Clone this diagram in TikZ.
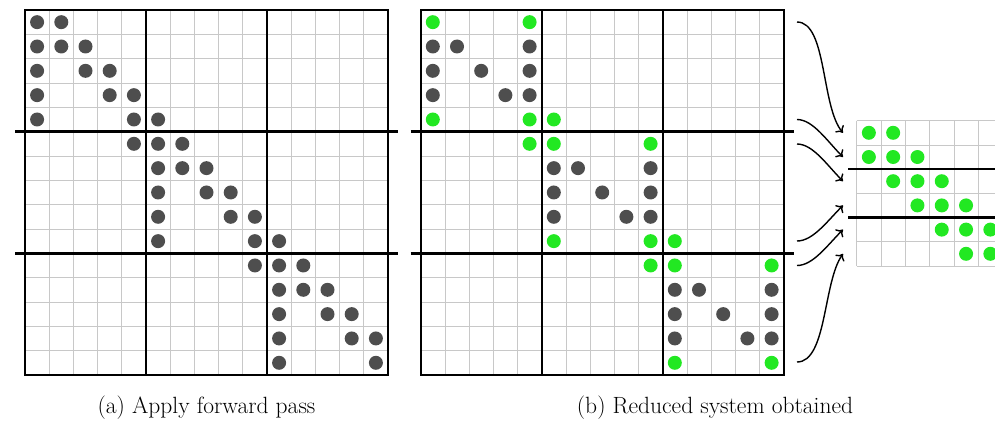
\documentclass[tikz,border=0pt]{standalone}
\usetikzlibrary{arrows.meta}
\definecolor{dotgrey}{RGB}{78,78,78}
\definecolor{dotgreen}{RGB}{34,232,34}
\definecolor{gridgrey}{RGB}{200,200,200}
\tikzset{
 gridline/.style={draw=gridgrey, line width=0.8pt},
 heavy/.style={draw=black, line width=2.6pt},
 blockline/.style={draw=black, line width=1.8pt},
 border/.style={draw=black, line width=1.8pt},
 greydot/.style={fill=dotgrey},
 greendot/.style={fill=dotgreen},
 flowarrow/.style={draw=black, line width=1.4pt, -{To[length=6pt,width=11pt]}},
 caption/.style={font=\fontsize{23.5}{28}\selectfont, anchor=base}
}
\begin{document}
\begin{tikzpicture}[x=1pt,y=-1pt]
\useasboundingbox (0,0) rectangle (995,421);
\def\cw{24.2}
\def\ch{24.33}
% ---------- grids of the two big matrices ----------
\foreach \ox in {25,420.7}{
  \foreach \i in {1,...,14}{
    \draw[gridline] ({\ox+\i*\cw},10) -- ({\ox+\i*\cw},{10+15*\ch});
    \draw[gridline] (\ox,{10+\i*\ch}) -- ({\ox+15*\cw},{10+\i*\ch});
  }
  \draw[blockline] ({\ox+5*\cw},10) -- ({\ox+5*\cw},{10+15*\ch});
  \draw[blockline] ({\ox+10*\cw},10) -- ({\ox+10*\cw},{10+15*\ch});
  \draw[border] (\ox,10) rectangle ({\ox+15*\cw},{10+15*\ch});
  \draw[heavy] ({\ox-10},{10+5*\ch}) -- ({\ox+15*\cw+10},{10+5*\ch});
  \draw[heavy] ({\ox-10},{10+10*\ch}) -- ({\ox+15*\cw+10},{10+10*\ch});
}
% ---------- dots of (a) ----------
\foreach \r/\c in {0/0,0/1,1/0,1/1,1/2,2/0,2/2,2/3,3/0,3/3,3/4,4/0,4/4,4/5,
  5/4,5/5,5/6,6/5,6/6,6/7,7/5,7/7,7/8,8/5,8/8,8/9,9/5,9/9,9/10,
  10/9,10/10,10/11,11/10,11/11,11/12,12/10,12/12,12/13,13/10,13/13,13/14,14/10,14/14}
  \fill[greydot] ({25+(\c+0.5)*\cw},{10+(\r+0.5)*\ch}) circle[radius=7];
% ---------- dots of (b) ----------
\foreach \r/\c in {1/0,1/1,1/4,2/0,2/2,2/4,3/0,3/3,3/4,6/5,6/6,6/9,7/5,7/7,7/9,
  8/5,8/8,8/9,11/10,11/11,11/14,12/10,12/12,12/14,13/10,13/13,13/14}
  \fill[greydot] ({420.7+(\c+0.5)*\cw},{10+(\r+0.5)*\ch}) circle[radius=7];
\foreach \r/\c in {0/0,0/4,4/0,4/4,4/5,5/4,5/5,5/9,9/5,9/9,9/10,10/9,10/10,10/14,14/10,14/14}
  \fill[greendot] ({420.7+(\c+0.5)*\cw},{10+(\r+0.5)*\ch}) circle[radius=7];
% ---------- reduced system ----------
\def\rx{856.7}
\def\ry{120.7}
\def\rw{24.3}
\def\rh{24.2}
\foreach \i in {0,...,6}{
  \draw[gridline] ({\rx+\i*\rw},\ry) -- ({\rx+\i*\rw},{\ry+6*\rh});
  \draw[gridline] (\rx,{\ry+\i*\rh}) -- ({\rx+6*\rw},{\ry+\i*\rh});
}
\draw[heavy] (848,{\ry+2*\rh}) -- (1010,{\ry+2*\rh});
\draw[heavy] (848,{\ry+4*\rh}) -- (1010,{\ry+4*\rh});
\foreach \r/\c in {0/0,0/1,1/0,1/1,1/2,2/1,2/2,2/3,3/2,3/3,3/4,4/3,4/4,4/5,5/4,5/5}
  \fill[greendot] ({\rx+(\c+0.5)*\rw},{\ry+(\r+0.5)*\rh}) circle[radius=7];
% ---------- arrows ----------
\coordinate (s1) at (797,22);
\coordinate (s2) at (797,119.5);
\coordinate (s3) at (797,144);
\coordinate (s4) at (797,241);
\coordinate (s5) at (797,265.5);
\coordinate (s6) at (797,362);
\coordinate (t1) at (843,{\ry+0.5*\rh});
\coordinate (t2) at (843,{\ry+1.5*\rh});
\coordinate (t3) at (843,{\ry+2.5*\rh});
\coordinate (t4) at (843,{\ry+3.5*\rh});
\coordinate (t5) at (843,{\ry+4.5*\rh});
\coordinate (t6) at (843,{\ry+5.5*\rh});
\draw[flowarrow] (s1) .. controls +(30,0) and +(-22,-26) .. (t1);
\draw[flowarrow] (s2) .. controls +(16,0) and +(-16,-16) .. (t2);
\draw[flowarrow] (s3) .. controls +(16,0) and +(-16,-16) .. (t3);
\draw[flowarrow] (s4) .. controls +(16,0) and +(-16,16) .. (t4);
\draw[flowarrow] (s5) .. controls +(16,0) and +(-16,16) .. (t5);
\draw[flowarrow] (s6) .. controls +(30,0) and +(-20,28) .. (t6);
% ---------- captions ----------
\node[caption] (capA) at (206.5,413) {(a) Apply forward pass};
\node[caption] (capB) at (715,413) {(b) Reduced system obtained};
\end{tikzpicture}
\end{document}
